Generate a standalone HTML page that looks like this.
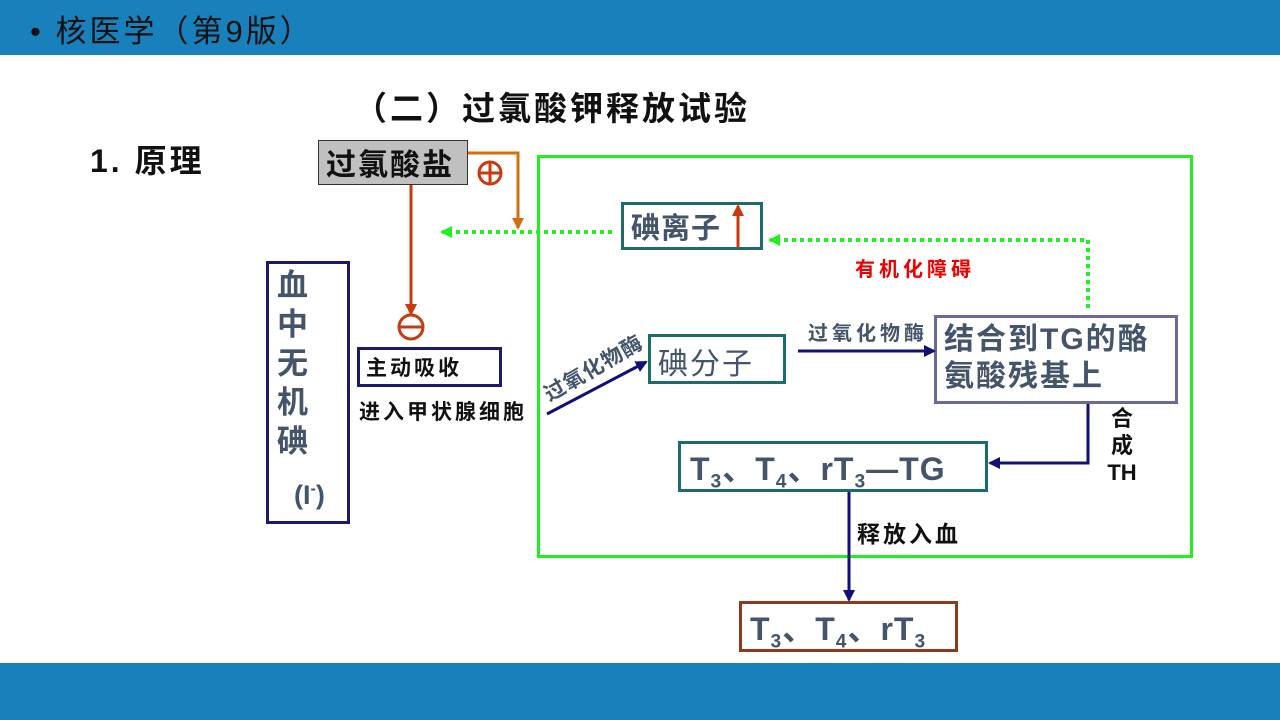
<!DOCTYPE html>
<html><head><meta charset="utf-8"><style>
body{margin:0;width:1280px;height:720px;position:relative;background:#fff;overflow:hidden;font-family:"Liberation Sans","Noto Sans CJK SC",sans-serif}
.a{position:absolute;white-space:nowrap}
.box{position:absolute;box-sizing:border-box}
.g{color:#44546a}
sub{font-size:60%;vertical-align:-0.4em}
</style></head><body>
<div class="a" style="left:0;top:0;width:1280px;height:55px;background:#1880bb"></div>
<div class="a" style="left:0;top:663px;width:1280px;height:57px;background:#1880bb"></div>
<div class="a" style="left:30px;top:6px;font-size:31px;color:#111;letter-spacing:3px">• 核医学（第9版）</div>
<div class="a" style="left:354px;top:82px;font-size:33px;font-weight:bold;color:#111;letter-spacing:3px">（二）过氯酸钾释放试验</div>
<div class="a" style="left:90px;top:136px;font-size:32px;font-weight:bold;color:#111;letter-spacing:3px">1. 原理</div>

<div class="box" style="left:537px;top:155px;width:656px;height:403px;border:3px solid #22ee22"></div>
<div class="box" style="left:318px;top:140px;width:150px;height:45px;background:#c0c0c0;border:1px solid #333"></div>
<div class="a" style="left:326px;top:140px;font-size:30px;font-weight:bold;color:#111;letter-spacing:2px">过氯酸盐</div>

<div class="box" style="left:621px;top:202px;width:142px;height:48px;border:3px solid #1e6b6b"></div>
<div class="a g" style="left:631px;top:205px;font-size:29px;font-weight:bold;letter-spacing:1px">碘离子</div>
<div class="a" style="left:855px;top:253px;font-size:20px;font-weight:bold;color:#e00;letter-spacing:4px">有机化障碍</div>

<div class="box" style="left:266px;top:261px;width:84px;height:263px;border:3px solid #1a1a6e"></div>
<div class="a g" style="left:277px;top:266px;font-size:31px;font-weight:bold;line-height:39px;white-space:normal;width:34px">血中无机碘</div>
<div class="a g" style="left:294px;top:480px;font-size:27px;font-weight:bold">(I<sup style="font-size:60%">-</sup>)</div>

<div class="box" style="left:357px;top:347px;width:145px;height:40px;border:3px solid #1a1a6e"></div>
<div class="a" style="left:366px;top:352px;font-size:21px;font-weight:bold;color:#111;letter-spacing:3px">主动吸收</div>
<div class="a" style="left:359px;top:396px;font-size:21px;font-weight:bold;color:#111;letter-spacing:3px">进入甲状腺细胞</div>

<div class="a g" style="left:538px;top:382px;font-size:21px;font-weight:bold;transform:rotate(-30deg);transform-origin:0 0;letter-spacing:1px">过氧化物酶</div>

<div class="box" style="left:648px;top:334px;width:138px;height:50px;border:3px solid #1e6b6b"></div>
<div class="a g" style="left:658px;top:339px;font-size:30px;letter-spacing:2px">碘分子</div>
<div class="a g" style="left:808px;top:317px;font-size:20px;font-weight:bold;letter-spacing:4px">过氧化物酶</div>

<div class="box" style="left:934px;top:315px;width:244px;height:89px;border:3px solid #6a6a9a"></div>
<div class="a g" style="left:944px;top:321px;font-size:30px;font-weight:bold;line-height:37px;letter-spacing:2px">结合到TG的酪<br>氨酸残基上</div>
<div class="a" style="left:1102px;top:405px;font-size:22px;font-weight:bold;color:#111;line-height:27px;text-align:center;width:40px">合<br>成<br>TH</div>

<div class="box" style="left:678px;top:441px;width:310px;height:51px;border:3px solid #1e6b6b"></div>
<div class="a g" style="left:690px;top:444px;font-size:32px;font-weight:bold;letter-spacing:1px">T<sub>3</sub>、T<sub>4</sub>、rT<sub>3</sub>—TG</div>
<div class="a" style="left:857px;top:515px;font-size:23px;font-weight:bold;color:#111;letter-spacing:3px">释放入血</div>

<div class="box" style="left:739px;top:601px;width:219px;height:51px;border:3px solid #8b3a1a"></div>
<div class="a g" style="left:750px;top:604px;font-size:32px;font-weight:bold;letter-spacing:1px">T<sub>3</sub>、T<sub>4</sub>、rT<sub>3</sub></div>

<svg class="a" style="left:0;top:0" width="1280" height="720">
<defs>
<marker id="na" markerWidth="12" markerHeight="12" refX="10" refY="6" orient="auto" markerUnits="userSpaceOnUse"><path d="M0,0L12,6L0,12z" fill="#10107a"/></marker>
<marker id="ga" markerWidth="12" markerHeight="12" refX="10" refY="6" orient="auto" markerUnits="userSpaceOnUse"><path d="M0,0L12,6L0,12z" fill="#22ee22"/></marker>
<marker id="oa" markerWidth="12" markerHeight="12" refX="10" refY="6" orient="auto" markerUnits="userSpaceOnUse"><path d="M0,0L12,6L0,12z" fill="#d07010"/></marker>
<marker id="ra" markerWidth="12" markerHeight="12" refX="10" refY="6" orient="auto" markerUnits="userSpaceOnUse"><path d="M0,0L12,6L0,12z" fill="#c83a10"/></marker>
</defs>
<polyline points="468,153 518,153 518,228" fill="none" stroke="#d07010" stroke-width="3" marker-end="url(#oa)"/>
<circle cx="490" cy="173" r="11" fill="none" stroke="#c83a10" stroke-width="3"/>
<line x1="479" y1="173" x2="501" y2="173" stroke="#c83a10" stroke-width="3"/>
<line x1="490" y1="162" x2="490" y2="184" stroke="#c83a10" stroke-width="3"/>
<line x1="411" y1="185" x2="411" y2="314" stroke="#c83a10" stroke-width="3" marker-end="url(#ra)"/>
<circle cx="411" cy="327" r="12" fill="none" stroke="#c83a10" stroke-width="3"/>
<line x1="399" y1="327" x2="423" y2="327" stroke="#c83a10" stroke-width="3"/>
<line x1="612" y1="232" x2="442" y2="232" stroke="#22ee22" stroke-width="4" stroke-dasharray="4,4" marker-end="url(#ga)"/>
<polyline points="1088,308 1088,240 770,240" fill="none" stroke="#22ee22" stroke-width="4" stroke-dasharray="4,4" marker-end="url(#ga)"/>
<line x1="738" y1="248" x2="738" y2="206" stroke="#c83a10" stroke-width="3" marker-end="url(#ra)"/>
<line x1="547" y1="414" x2="646" y2="362" stroke="#10107a" stroke-width="3" marker-end="url(#na)"/>
<line x1="798" y1="351" x2="934" y2="351" stroke="#10107a" stroke-width="3" marker-end="url(#na)"/>
<polyline points="1088,404 1088,463 990,463" fill="none" stroke="#10107a" stroke-width="3" marker-end="url(#na)"/>
<line x1="849" y1="492" x2="849" y2="600" stroke="#10107a" stroke-width="3" marker-end="url(#na)"/>
</svg>
</body></html>
